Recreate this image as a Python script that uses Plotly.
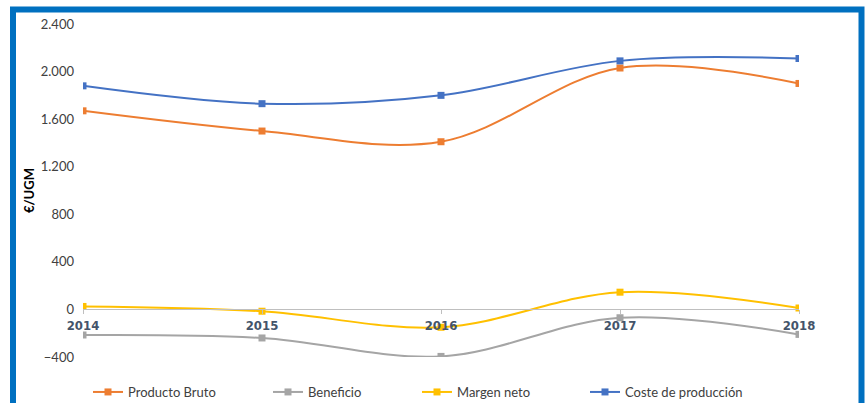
import plotly.graph_objects as go

years = ["2014", "2015", "2016", "2017", "2018"]
x_pos = [2014, 2015, 2016, 2017, 2018]
producto_bruto = [1670, 1500, 1410, 2030, 1900]
beneficio = [-215, -240, -395, -70, -210]
margen_neto = [25, -15, -150, 145, 12]
coste_produccion = [1880, 1730, 1800, 2090, 2110]

series = [
    ("Producto Bruto", producto_bruto, "#ED7D31", "legend"),
    ("Beneficio", beneficio, "#A5A5A5", "legend2"),
    ("Margen neto", margen_neto, "#FFC000", "legend3"),
    ("Coste de producción", coste_produccion, "#4472C4", "legend4"),
]

W, H = 867, 403
ML, MR, MT, MB = 83, 68, 24, 46
pw = W - ML - MR
ph = H - MT - MB


def px(xp):
    return (xp - ML) / pw


def py(yp):
    return (H - MB - yp) / ph


fig = go.Figure()
for name, vals, col, lg in series:
    fig.add_trace(go.Scatter(
        x=x_pos, y=vals, name=name, mode="lines+markers", legend=lg,
        line=dict(color=col, width=2, shape="spline", smoothing=1.0),
        marker=dict(symbol="square", size=7, color=col),
    ))

ymin, ymax = -400, 2400
zero_frac = (0 - ymin) / (ymax - ymin)

legend_text_x = [128, 308, 457, 625]
legend_font = dict(family="Lato, Calibri, Open Sans, sans-serif", size=13, color="#404040")
legends = {}
for i, tx in enumerate(legend_text_x):
    key = "legend" if i == 0 else f"legend{i+1}"
    legends[key] = dict(orientation="h", x=px(tx - 40), xanchor="left",
                        y=py(392), yanchor="middle", font=legend_font,
                        bgcolor="rgba(0,0,0,0)", borderwidth=0)

fig.update_layout(
    width=W, height=H,
    margin=dict(l=ML, r=MR, t=MT, b=MB, autoexpand=False),
    paper_bgcolor="white", plot_bgcolor="white",
    separators=",.",
    font=dict(family="Lato, Calibri, Open Sans, sans-serif", size=13, color="#404040"),
    showlegend=True,
    xaxis=dict(
        range=[2014, 2018], tickvals=x_pos, ticktext=years,
        anchor="free", position=zero_frac,
        showline=True, linecolor="#BFBFBF", linewidth=1,
        ticks="outside", ticklen=4, tickcolor="#BFBFBF",
        showgrid=False, zeroline=False,
        tickfont=dict(family="Liberation Sans Narrow, DejaVu Sans Condensed, Roboto", size=13,
                      color="#44546A", weight="bold"),
    ),
    yaxis=dict(
        range=[ymin, ymax], dtick=400, tick0=0, tickformat=",",
        showgrid=False, zeroline=False, showline=False,
        ticks="", ticklabelstandoff=8,
        title=dict(text="<b>€/UGM</b>", font=dict(size=13, color="#000000"), standoff=3),
        tickfont=dict(size=13, color="#404040"),
    ),
    **legends,
)

# outer blue frame
fig.add_shape(type="rect", xref="paper", yref="paper",
              x0=px(13), x1=px(861.5), y0=py(430), y1=py(9.5),
              line=dict(color="#0070C0", width=6), fillcolor="rgba(0,0,0,0)", layer="below")

fig.write_html("out.html", config={"displayModeBar": False},
               post_script="document.body.style.margin='0px';")
